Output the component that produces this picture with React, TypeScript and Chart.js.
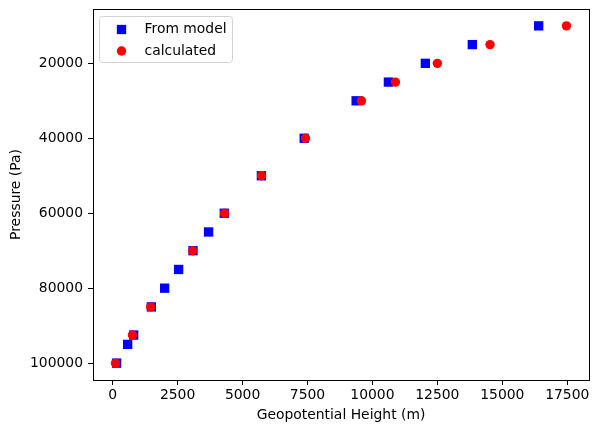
import { useEffect, useRef } from "react";
import { Chart, registerables } from "chart.js";

Chart.register(...registerables);

// Geopotential height (m) at each pressure level (Pa)
const pressureModel = [100000, 95000, 92500, 85000, 80000, 75000, 70000, 65000, 60000, 50000, 40000, 30000, 25000, 20000, 15000, 10000];
const heightModel = [150, 577, 808, 1488, 2000, 2538, 3092, 3692, 4296, 5725, 7373, 9373, 10615, 12038, 13846, 16400];

const pressureCalc = [100000, 92500, 85000, 70000, 60000, 50000, 40000, 30000, 25000, 20000, 15000, 10000];
const heightCalc = [110, 760, 1462, 3077, 4308, 5731, 7423, 9577, 10885, 12500, 14527, 17470];

const xTicks = [0, 2500, 5000, 7500, 10000, 12500, 15000, 17500];
const yTicks = [20000, 40000, 60000, 80000, 100000];

const FONT = { family: "DejaVu Sans", size: 13.9 };

function paddedRange(values: number[], frac = 0.05): [number, number] {
  const lo = Math.min(...values);
  const hi = Math.max(...values);
  const m = (hi - lo) * frac;
  return [lo - m, hi + m];
}

const frameAndLegend = {
  id: "frameAndLegend",
  afterDatasetsDraw(chart: any) {
    const ctx = chart.ctx as CanvasRenderingContext2D;
    const { left, right, top, bottom } = chart.chartArea;

    // axes frame
    ctx.save();
    ctx.strokeStyle = "#000";
    ctx.lineWidth = 1;
    ctx.strokeRect(Math.round(left) + 0.5, Math.round(top) + 0.5, Math.round(right - left), Math.round(bottom - top));
    ctx.restore();

    // legend box in the upper-left corner of the plot
    const bx = left + 6.5;
    const by = top + 7.5;
    const bw = 133;
    const bh = 46;
    ctx.save();
    ctx.beginPath();
    (ctx as any).roundRect(bx, by, bw, bh, 3);
    ctx.fillStyle = "rgba(255,255,255,0.8)";
    ctx.fill();
    ctx.strokeStyle = "#d2d2d2";
    ctx.lineWidth = 1;
    ctx.stroke();

    const rows = [by + 13, by + 34.5];
    chart.data.datasets.forEach((ds: any, i: number) => {
      const cy = rows[i];
      const mx = bx + 22;
      ctx.fillStyle = ds.backgroundColor;
      if (ds.pointStyle === "rect") {
        const s = 9.3;
        ctx.fillRect(mx - s / 2, cy - s / 2, s, s);
      } else {
        ctx.beginPath();
        ctx.arc(mx, cy, 4.7, 0, Math.PI * 2);
        ctx.fill();
      }
      ctx.fillStyle = "#000";
      ctx.font = `${FONT.size}px "${FONT.family}"`;
      ctx.textAlign = "left";
      ctx.textBaseline = "middle";
      ctx.fillText(ds.label, bx + 45, cy);
    });
    ctx.restore();
  },
};

export default function App() {
  const canvasRef = useRef<HTMLCanvasElement | null>(null);

  useEffect(() => {
    if (!canvasRef.current) return;
    const [xMin, xMax] = paddedRange([...heightModel, ...heightCalc]);
    const [yMin, yMax] = paddedRange([...pressureModel, ...pressureCalc]);

    const chart = new Chart(canvasRef.current, {
      type: "scatter",
      data: {
        datasets: [
          {
            label: "From model",
            data: heightModel.map((h, i) => ({ x: h, y: pressureModel[i] })),
            pointStyle: "rect",
            pointRadius: 6.6,
            borderWidth: 0,
            backgroundColor: "#0000ff",
            borderColor: "#0000ff",
            order: 1,
          },
          {
            label: "calculated",
            data: heightCalc.map((h, i) => ({ x: h, y: pressureCalc[i] })),
            pointStyle: "circle",
            pointRadius: 4.7,
            borderWidth: 0,
            backgroundColor: "#ff0000",
            borderColor: "#ff0000",
            order: 0,
          },
        ],
      },
      options: {
        animation: false,
        responsive: false,
        devicePixelRatio: 1,
        events: [],
        layout: { padding: { left: 0, top: 9, right: 9, bottom: 0 } },
        plugins: {
          legend: { display: false },
          tooltip: { enabled: false },
        },
        scales: {
          x: {
            type: "linear",
            min: xMin,
            max: xMax,
            afterFit: (s: any) => {
              s.height = 52;
              s.paddingLeft = 0;
              s.paddingRight = 0;
            },
            afterBuildTicks: (s: any) => {
              s.ticks = xTicks.map((v) => ({ value: v }));
            },
            border: { display: false },
            grid: {
              display: true,
              drawOnChartArea: false,
              drawTicks: true,
              tickLength: 5,
              tickColor: "#000",
              tickWidth: 1,
            },
            ticks: {
              color: "#000",
              font: FONT,
              padding: 2,
              maxRotation: 0,
              autoSkip: false,
              callback: (v: any) => String(v),
            },
            title: {
              display: true,
              text: "Geopotential Height (m)",
              color: "#000",
              font: FONT,
              padding: { top: 0, bottom: 8.7 },
            },
          },
          y: {
            type: "linear",
            reverse: true,
            min: yMin,
            max: yMax,
            afterFit: (s: any) => {
              s.width = 93;
              s.paddingTop = 0;
              s.paddingBottom = 0;
            },
            afterBuildTicks: (s: any) => {
              s.ticks = yTicks.map((v) => ({ value: v }));
            },
            border: { display: false },
            grid: {
              display: true,
              drawOnChartArea: false,
              drawTicks: true,
              tickLength: 5,
              tickColor: "#000",
              tickWidth: 1,
            },
            ticks: {
              color: "#000",
              font: FONT,
              padding: 5,
              autoSkip: false,
              callback: (v: any) => String(v),
            },
            title: {
              display: true,
              text: "Pressure (Pa)",
              color: "#000",
              font: FONT,
              padding: { top: 7.7, bottom: 0 },
            },
          },
        },
      },
      plugins: [frameAndLegend],
    });

    return () => chart.destroy();
  }, []);

  return (
    <div style={{ position: "absolute", left: 0, top: 0, width: 598, height: 432, background: "#fff" }}>
      <canvas ref={canvasRef} width={598} height={432} />
    </div>
  );
}
